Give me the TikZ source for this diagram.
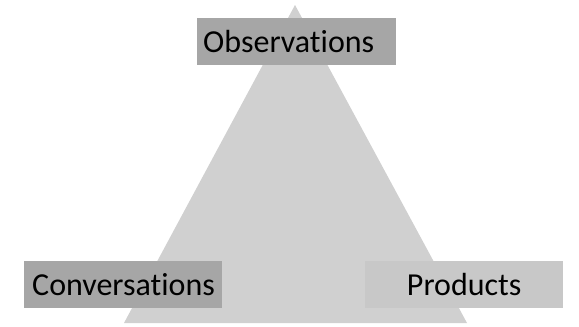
\documentclass[tikz,border=0pt]{standalone}
\usepackage{fontspec}
\setmainfont{Carlito}[Ligatures=NoCommon]
\usetikzlibrary{positioning}

\definecolor{trigray}{HTML}{D0D0D0}
\definecolor{darkbox}{HTML}{A6A6A6}
\definecolor{lightbox}{HTML}{C8C8C8}

\begin{document}
\begin{tikzpicture}[x=1pt, y=-1pt,
  corner/.style={fill=darkbox, minimum height=47pt, inner ysep=0pt,
    font=\fontsize{32}{32}\selectfont, anchor=north west},
  lcorner/.style={corner, fill=lightbox}]
  \useasboundingbox (0,0) rectangle (579,327);

  % the triangle behind
  \coordinate (top) at (295,5);
  \coordinate (bl) at (124,323);
  \coordinate (br) at (467,323);
  \fill[trigray] (top) -- (bl) -- (br) -- cycle;

  % the three corner labels
  \node[corner, inner xsep=6pt, text width=187pt, align=left] (obs) at (197,18) {Observations};
  \node[corner, inner xsep=8pt, text width=182pt, align=left] (conv) at (24,261) {Conversations};
  \node[lcorner, inner xsep=0pt, text width=198pt, align=center] (prod) at (365,261) {Products};
\end{tikzpicture}
\end{document}
